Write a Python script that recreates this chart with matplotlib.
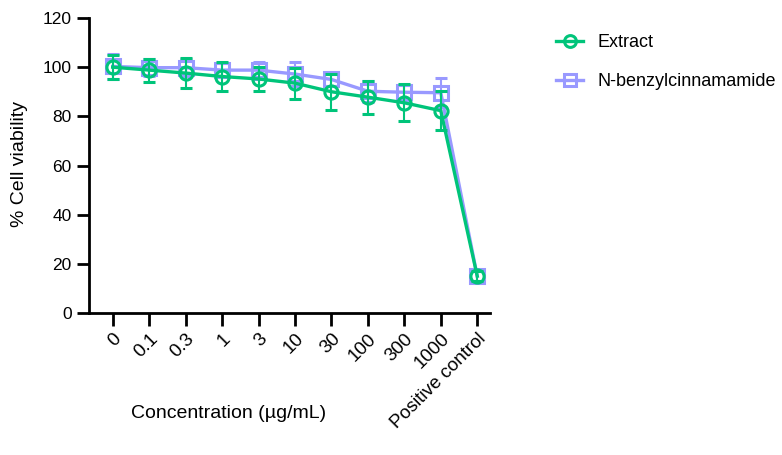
import matplotlib
matplotlib.use("Agg")
import matplotlib.pyplot as plt
from matplotlib.lines import Line2D
import numpy as np

plt.rcParams['font.family'] = ['Liberation Sans', 'DejaVu Sans']

categories = ["0", "0.1", "0.3", "1", "3", "10", "30", "100", "300", "1000", "Positive control"]
extract_mean = [100.0, 98.8, 97.6, 96.2, 95.2, 93.5, 90.0, 87.8, 85.5, 82.3, 15.0]
extract_err = [5.0, 4.7, 6.0, 6.0, 5.0, 6.3, 7.3, 6.7, 7.5, 8.0, 2.0]
nbc_mean = [100.3, 99.8, 99.8, 98.8, 98.8, 97.2, 95.0, 90.2, 89.8, 89.6, 15.0]
nbc_err = [5.0, 3.5, 3.5, 3.0, 3.5, 5.0, 2.5, 4.3, 3.0, 6.0, 2.0]

green = "#00C47A"
purple = "#9999FF"

fig = plt.figure(figsize=(7.82, 4.55), dpi=100)
ax = fig.add_axes([89/782, 1-313/455, (490-89)/782, (313-18)/455])

x = np.arange(len(categories))
ax.errorbar(x, nbc_mean, yerr=nbc_err, color=purple, marker='s', markersize=9.5,
            markerfacecolor='none', markeredgewidth=2.2, linewidth=2.4,
            capsize=4.5, elinewidth=1.5, capthick=1.5, zorder=2)
ax.errorbar(x, extract_mean, yerr=extract_err, color=green, marker='o', markersize=9.5,
            markerfacecolor='none', markeredgewidth=2.2, linewidth=2.4,
            capsize=4.5, elinewidth=1.5, capthick=1.5, zorder=3)

ax.set_ylim(0, 120)
ax.set_yticks([0, 20, 40, 60, 80, 100, 120])
ax.set_xlim(-0.65, 10.35)
ax.set_xticks(x)
ax.set_xticklabels(categories, rotation=45, ha='right', rotation_mode='anchor', fontsize=13.5)
ax.tick_params(axis='y', labelsize=12.5)
ax.tick_params(width=2, length=9, direction='out')
for s in ['top', 'right']:
    ax.spines[s].set_visible(False)
for s in ['left', 'bottom']:
    ax.spines[s].set_linewidth(2)

fig.text(20/782, 1-164/455, "% Cell viability", fontsize=14, rotation=90,
         ha='center', va='center')
fig.text(229/782, 1-413/455, "Concentration (µg/mL)", fontsize=14, ha='center', va='center')

h1 = Line2D([], [], color=green, marker='o', markersize=8.5, markerfacecolor='none',
            markeredgewidth=2.2, linewidth=2.4)
h2 = Line2D([], [], color=purple, marker='s', markersize=8.5, markerfacecolor='none',
            markeredgewidth=2.2, linewidth=2.4)
fig.legend([h1, h2], ["Extract", "N-benzylcinnamamide"],
           loc='upper left', bbox_to_anchor=(540/782, 1-18/455), frameon=False,
           fontsize=13, labelspacing=1.2, handlelength=1.5, handletextpad=0.8)

fig.savefig("out.png", dpi=100)
